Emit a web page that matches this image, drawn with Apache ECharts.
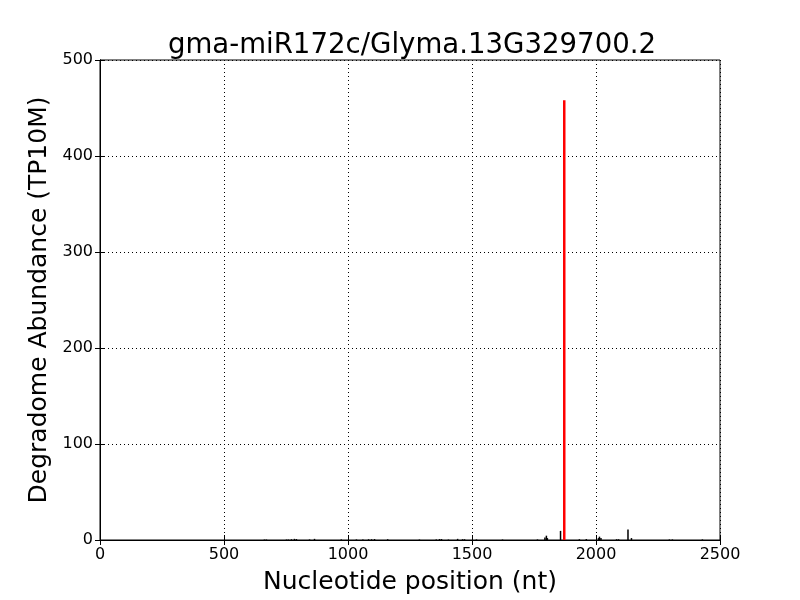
<!DOCTYPE html>
<html><head><meta charset="utf-8">
<script src="https://cdn.jsdelivr.net/npm/echarts@6/dist/echarts.min.js"></script>
<style>html,body{margin:0;padding:0;background:#fff}#c{width:800px;height:600px}</style>
</head><body><div id="c"></div>
<script>
const titleText = 'gma-miR172c/Glyma.13G329700.2';
const xTicks = [0, 500, 1000, 1500, 2000, 2500];
const yTicks = [0, 100, 200, 300, 400, 500];
const bgPositions = [665, 673, 754, 762, 774, 786, 794, 847, 867, 975, 1036, 1062, 1085, 1097, 1109, 1162, 1290, 1358, 1371, 1379, 1407, 1444, 1464, 1472, 1520, 1625, 1766, 1796, 1802, 1806, 1859, 1935, 1963, 2012, 2016, 2022, 2085, 2093, 2131, 2145, 2298, 2310, 2431];
const bgValues =    [0.5, 0.5, 0.5, 0.5, 0.8, 1.2, 1.0, 0.6, 1.2, 0.6, 0.6, 0.6, 0.8, 0.8, 1.0, 0.8, 0.5, 0.6, 1.0, 1.0, 0.5, 1.2, 0.8, 0.8, 0.6, 0.5, 0.6, 2.5, 4.5, 2.0, 9.5, 0.8, 1.0, 2.0, 3.5, 2.0, 0.8, 0.8, 11, 2.0, 0.6, 0.6, 0.6];
const targetPosition = [1872];
const targetValue = [458];

const chart = echarts.init(document.getElementById('c'));
const font = 'DejaVu Sans';
chart.setOption({
  animation: false,
  title: { text: titleText, left: 407, textAlign: 'center', top: 27, textStyle: { fontFamily: font, fontSize: 27.6, fontWeight: 'normal', color: '#000' } },
  grid: { left: 100, right: 80, top: 60, bottom: 60, show: true, borderColor: '#000', borderWidth: 1, containLabel: false, outerBoundsMode: 'none' },
  xAxis: [{
    type: 'value', min: 0, max: 2500, interval: 500,
    name: 'Nucleotide position (nt)', nameLocation: 'middle', nameGap: 30,
    nameTextStyle: { fontFamily: font, fontSize: 25, color: '#000' },
    axisLine: { show: true, lineStyle: { color: '#000' } },
    axisTick: { show: true, inside: true, length: 5, lineStyle: { color: '#000' } },
    axisLabel: { fontFamily: font, fontSize: 16, color: '#000', margin: 7, formatter: v => String(v) },
    splitLine: { show: true, lineStyle: { color: '#000', type: [1, 3], width: 1 } }
  }, {
    type: 'value', min: 0, max: 2500, interval: 500, position: 'top',
    axisLine: { show: true, lineStyle: { color: '#000' } },
    axisTick: { show: true, inside: true, length: 5, lineStyle: { color: '#000' } },
    axisLabel: { show: false }, splitLine: { show: false }
  }],
  yAxis: [{
    type: 'value', min: 0, max: 500, interval: 100,
    name: 'Degradome Abundance (TP10M)', nameLocation: 'middle', nameGap: 46,
    nameTextStyle: { fontFamily: font, fontSize: 25, color: '#000' },
    axisLine: { show: true, lineStyle: { color: '#000' } },
    axisTick: { show: true, inside: true, length: 5, lineStyle: { color: '#000' } },
    axisLabel: { fontFamily: font, fontSize: 16, color: '#000', margin: 7 },
    splitLine: { show: true, lineStyle: { color: '#000', type: [1, 3], width: 1 } }
  }, {
    type: 'value', min: 0, max: 500, interval: 100, position: 'right',
    axisLine: { show: true, lineStyle: { color: '#000' } },
    axisTick: { show: true, inside: true, length: 5, lineStyle: { color: '#000' } },
    axisLabel: { show: false }, splitLine: { show: false }
  }],
  series: [{
    type: 'bar', barWidth: 1.5, barGap: '-100%', itemStyle: { color: '#000' },
    data: bgPositions.map((p, i) => [p, bgValues[i]])
  }, {
    type: 'bar', barWidth: 2.5, barGap: '-100%', itemStyle: { color: '#ff0000' },
    data: targetPosition.map((p, i) => [p, targetValue[i]])
  }]
});
</script></body></html>
